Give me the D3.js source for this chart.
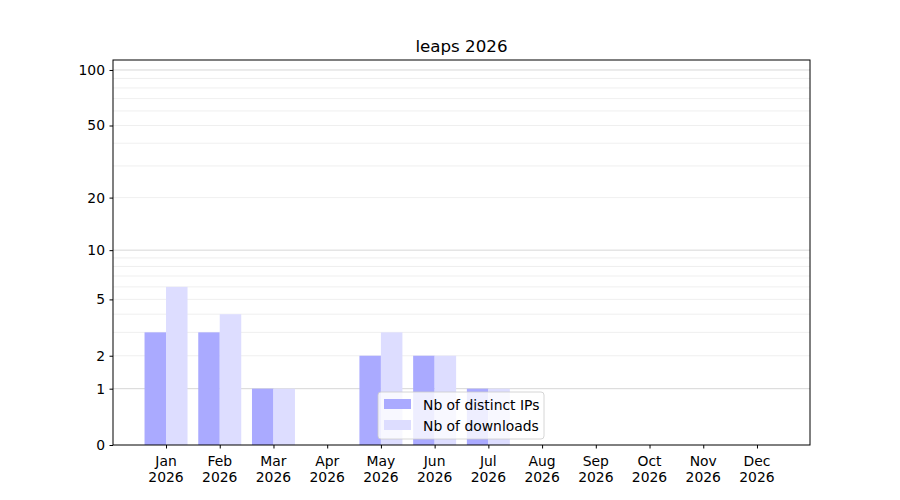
<!DOCTYPE html>
<html><head><meta charset="utf-8">
<script src="https://cdn.jsdelivr.net/npm/d3@7"></script>
<style>body{margin:0;background:#fff}svg{font-family:"DejaVu Sans",sans-serif}</style>
</head><body><svg id="c" width="900" height="500"></svg>
<script>
const title = "leaps 2026";
const months = ["Jan","Feb","Mar","Apr","May","Jun","Jul","Aug","Sep","Oct","Nov","Dec"];
const year = "2026";
const distinctIPs = [3,3,1,0,2,2,1,0,0,0,0,0];
const downloads = [6,4,1,0,3,2,1,0,0,0,0,0];
const yTicks = [0,1,2,5,10,20,50,100];
const majorGrid = [1,10,100];
const minorGrid = [2,3,4,5,6,7,8,9,20,30,40,50,60,70,80,90];
const seriesNames = ["Nb of distinct IPs","Nb of downloads"];
const colors = ["#aaaaff","#ddddff"];

const FS=13.9;
const L=113,R=810,T=60,B=445;
const svg=d3.select("#c");
const x=d3.scaleLinear().domain([-0.987,11.987]).range([L,R]);
const y=d3.scaleSymlog().constant(1).domain([0,113.2]).range([B,T]);
const step=x(1)-x(0), bw=step*0.4;

const g=svg.append("g");
g.selectAll(".mg").data(minorGrid).join("line")
 .attr("x1",L).attr("x2",R).attr("y1",d=>y(d)).attr("y2",d=>y(d))
 .attr("stroke","#ebebeb").attr("stroke-width",0.8);
g.selectAll(".Mg").data(majorGrid).join("line")
 .attr("x1",L).attr("x2",R).attr("y1",d=>y(d)).attr("y2",d=>y(d))
 .attr("stroke","#cccccc").attr("stroke-width",0.8);

g.selectAll(".b1").data(distinctIPs).join("rect")
 .attr("x",(d,i)=>x(i)-bw).attr("width",bw)
 .attr("y",d=>y(d)).attr("height",d=>B-y(d)).attr("fill",colors[0]);
g.selectAll(".b2").data(downloads).join("rect")
 .attr("x",(d,i)=>x(i)).attr("width",bw)
 .attr("y",d=>y(d)).attr("height",d=>B-y(d)).attr("fill",colors[1]);

svg.append("rect").attr("x",L).attr("y",T).attr("width",R-L).attr("height",B-T)
 .attr("fill","none").attr("stroke","#000").attr("stroke-width",1);

const ya=svg.append("g").attr("transform",`translate(${L},0)`)
 .call(d3.axisLeft(y).tickValues(yTicks).tickFormat(d3.format("d")).tickSize(3.5).tickPadding(4.5));
ya.select(".domain").remove();
ya.selectAll("text").attr("font-size",FS).attr("fill","#000").attr("font-family","DejaVu Sans");

const xa=svg.append("g").attr("transform",`translate(0,${B})`)
 .call(d3.axisBottom(x).tickValues(d3.range(12)).tickFormat("").tickSize(3.5));
xa.select(".domain").remove();
const lab=svg.append("g");
months.forEach((m,i)=>{
  const t=lab.append("text").attr("x",x(i)).attr("text-anchor","middle").attr("font-size",FS);
  t.append("tspan").attr("x",x(i)).attr("y",466).text(m);
  t.append("tspan").attr("x",x(i)).attr("y",482).text(year);
});

svg.append("text").attr("x",(L+R)/2).attr("y",52).attr("text-anchor","middle")
 .attr("font-size",16.7).text(title);

const lg=svg.append("g").attr("transform","translate(378,392)");
lg.append("rect").attr("width",166).attr("height",47).attr("rx",3)
 .attr("fill","#fff").attr("fill-opacity",0.8).attr("stroke","#cccccc").attr("stroke-width",0.8);
seriesNames.forEach((n,i)=>{
  lg.append("rect").attr("x",6).attr("y",7+i*21).attr("width",27).attr("height",10).attr("fill",colors[i]);
  lg.append("text").attr("x",45).attr("y",17.5+i*21).attr("font-size",FS).text(n);
});
</script></body></html>
